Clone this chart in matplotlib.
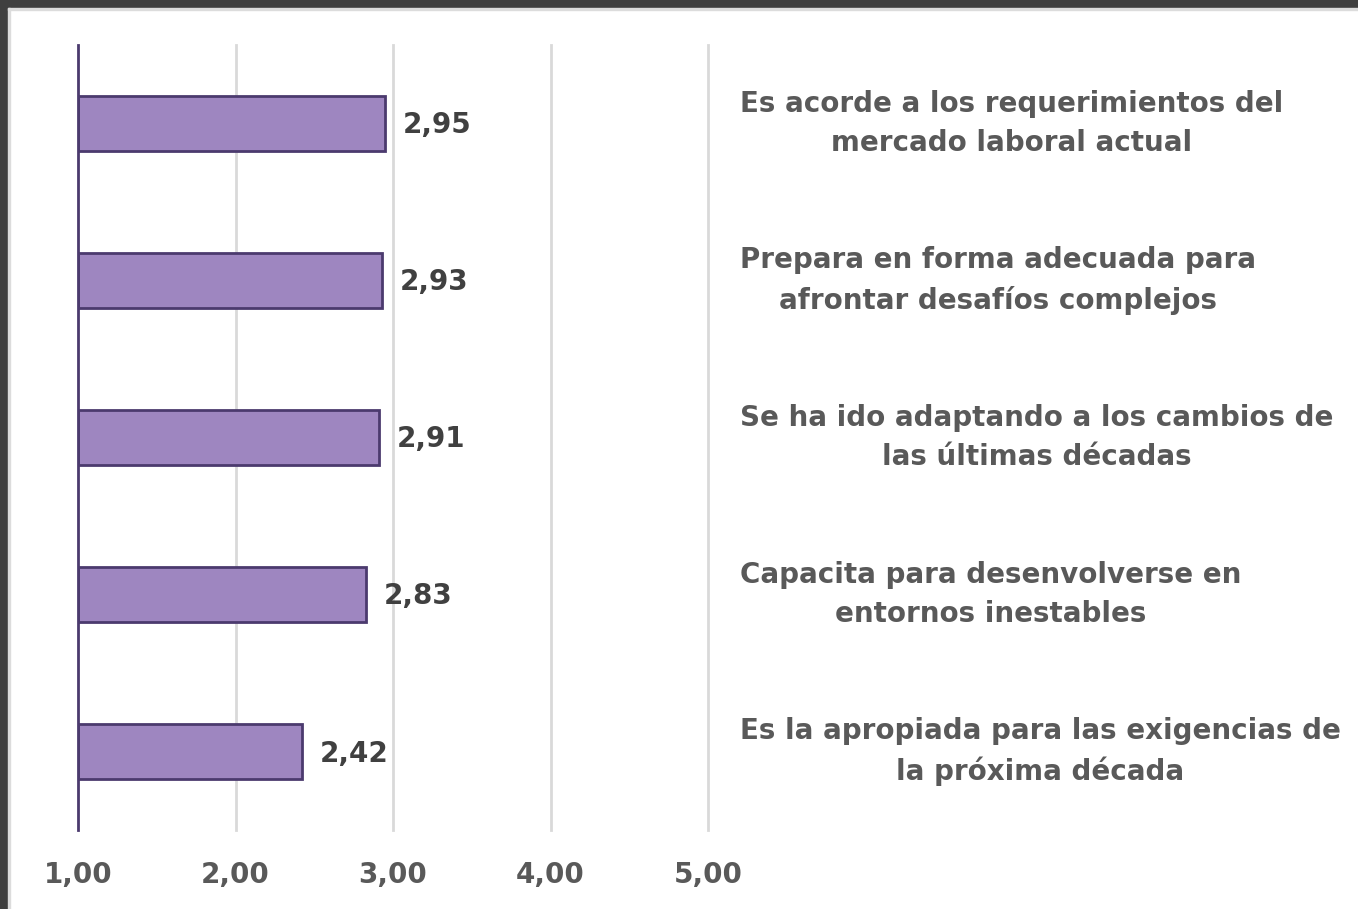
import matplotlib
matplotlib.use("Agg")
import matplotlib.pyplot as plt
from matplotlib.patches import Rectangle

# data, top to bottom as in the picture
categories = [
    "Es acorde a los requerimientos del\nmercado laboral actual",
    "Prepara en forma adecuada para\nafrontar desafíos complejos",
    "Se ha ido adaptando a los cambios de\nlas últimas décadas",
    "Capacita para desenvolverse en\nentornos inestables",
    "Es la apropiada para las exigencias de\nla próxima década",
]
values = [2.95, 2.93, 2.91, 2.83, 2.42]
ticks = [1, 2, 3, 4, 5]
tick_labels = ["1,00", "2,00", "3,00", "4,00", "5,00"]

bar_color = "#9e86c0"
edge_color = "#4b3a6e"
text_grey = "#595959"

plt.rcParams["font.family"] = ["DejaVu Sans"]
plt.rcParams["font.weight"] = "bold"

W, H = 1358, 909
fig = plt.figure(figsize=(W / 100, H / 100), dpi=100)

# dark frame on top/left like the screenshot
fig.patches.append(Rectangle((0, 1 - 8 / H), 1, 8 / H, transform=fig.transFigure,
                             color="#3f3f3f", zorder=0))
fig.patches.append(Rectangle((0, 0), 8 / W, 1, transform=fig.transFigure,
                             color="#3f3f3f", zorder=0))
fig.patches.append(Rectangle((8 / W, 1 - 10 / H), 1, 2 / H, transform=fig.transFigure,
                             color="#dcdcdc", zorder=0))
fig.patches.append(Rectangle((8 / W, 0), 2 / W, 1 - 8 / H, transform=fig.transFigure,
                             color="#dcdcdc", zorder=0))

ax = fig.add_axes([78 / W, 1 - 830 / H, 630 / W, 785 / H])

y = list(range(len(values)))
ax.barh(y, [v - 1 for v in values], left=1, height=0.35, color=bar_color,
        edgecolor=edge_color, linewidth=2, zorder=3)

ax.set_xlim(1, 5)
ax.set_ylim(len(values) - 0.5, -0.5)
ax.set_xticks(ticks)
ax.set_xticklabels(tick_labels)
ax.set_yticks([])
ax.tick_params(axis="x", length=0, pad=22, labelsize=20, labelcolor=text_grey)

for t in ticks[1:]:
    ax.axvline(t, color="#d9d9d9", linewidth=2, zorder=1, clip_on=False)

for s in ["top", "right", "bottom"]:
    ax.spines[s].set_visible(False)
ax.spines["left"].set_color(edge_color)
ax.spines["left"].set_linewidth(2)
ax.spines["left"].set_zorder(4)

for yi, v in zip(y, values):
    ax.annotate(f"{v:.2f}".replace(".", ","), xy=(v, yi), xytext=(18, -2),
                textcoords="offset pixels", va="center", ha="left",
                fontsize=20, fontweight="bold", color="#404040")

for yi, c in zip(y, categories):
    ax.text((740 - 78) / 630, yi, c, transform=ax.get_yaxis_transform(),
            ha="left", va="center", multialignment="center",
            fontsize=20, fontweight="bold", color=text_grey, linespacing=1.52)

fig.savefig("out.png", dpi=100)
